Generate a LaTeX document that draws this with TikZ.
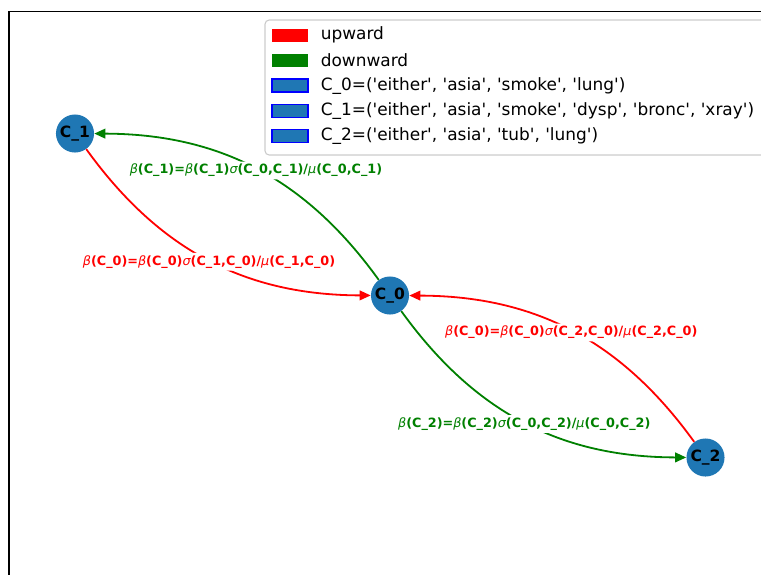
\documentclass[tikz,border=0pt]{standalone}
\usepackage{fontspec}
\setmainfont{DejaVu Sans}[Ligatures=TeXOff]
\usetikzlibrary{arrows.meta}
\definecolor{nodeblue}{HTML}{1F77B4}
\definecolor{mplgreen}{HTML}{008000}
\definecolor{mplred}{HTML}{FF0000}
\newcommand{\gk}[1]{{\mdseries\itshape #1}}
\begin{document}
\begin{tikzpicture}[x=0.72pt,y=-0.72pt,
  cnode/.style={circle, fill=nodeblue, minimum size=27.4pt, inner sep=0pt,
    font=\bfseries\fontsize{11.2}{13}\selectfont},
  edge/.style={line width=1.3pt, -{Triangle[length=8pt,width=7pt]}, bend right=27},
  elabel/.style={fill=white, inner sep=1.8pt, rounded corners=2pt, yshift=-1.2pt,
    font=\bfseries\fontsize{9.2}{11}\selectfont},
  patch/.style={line width=0.9pt},
  ltext/.style={anchor=west, inner sep=0pt, font=\fontsize{12.2}{14}\selectfont}]
\useasboundingbox (0,0) rectangle (761,574);
\clip (0,0) rectangle (761,574);

% axes frame
\draw[line width=0.8pt] (9,620) -- (9,11.5) -- (820,11.5);

% clusters
\node[cnode] (c1) at (75,133.5) {C\_1};
\node[cnode] (c0) at (390,295.5) {C\_0};
\node[cnode] (c2) at (705.5,457.5) {C\_2};

% messages
\draw[edge, mplred] (c1) to node[elabel, text=mplred]
  {\gk{β}(C\_0)=\gk{β}(C\_0)\gk{σ}(C\_1,C\_0)/\gk{μ}(C\_1,C\_0)} (c0);
\draw[edge, mplgreen] (c0) to node[elabel, text=mplgreen]
  {\gk{β}(C\_1)=\gk{β}(C\_1)\gk{σ}(C\_0,C\_1)/\gk{μ}(C\_0,C\_1)} (c1);
\draw[edge, mplred] (c2) to node[elabel, text=mplred]
  {\gk{β}(C\_0)=\gk{β}(C\_0)\gk{σ}(C\_2,C\_0)/\gk{μ}(C\_2,C\_0)} (c0);
\draw[edge, mplgreen] (c0) to node[elabel, text=mplgreen]
  {\gk{β}(C\_2)=\gk{β}(C\_2)\gk{σ}(C\_0,C\_2)/\gk{μ}(C\_0,C\_2)} (c2);

% legend
\draw[draw=black!20, fill=white, fill opacity=0.8, rounded corners=3pt, line width=0.8pt]
  (265,20) rectangle (800,155);
\fill[mplred] (272,28.5) rectangle (308,41.5);
\fill[mplgreen] (272,53.8) rectangle (308,66.8);
\draw[patch, draw=blue, fill=nodeblue] (272,79.1) rectangle (308,92.1);
\draw[patch, draw=blue, fill=nodeblue] (272,104.4) rectangle (308,117.4);
\draw[patch, draw=blue, fill=nodeblue] (272,129.7) rectangle (308,142.7);
\node[ltext] (lup) at (320.5,35) {upward};
\node[ltext] (ldown) at (320.5,60.3) {downward};
\node[ltext] (lc0) at (320.5,85.6) {C\_0=('either', 'asia', 'smoke', 'lung')};
\node[ltext] (lc1) at (320.5,110.9) {C\_1=('either', 'asia', 'smoke', 'dysp', 'bronc', 'xray')};
\node[ltext] (lc2) at (320.5,136.2) {C\_2=('either', 'asia', 'tub', 'lung')};
\end{tikzpicture}
\end{document}
